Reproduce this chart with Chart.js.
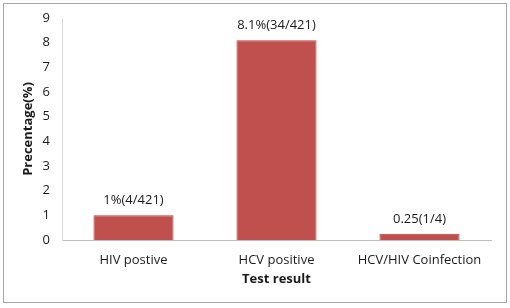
<!DOCTYPE html>
<html>
<head>
<meta charset="utf-8">
<script src="https://cdn.jsdelivr.net/npm/chart.js@4.4.0/dist/chart.umd.min.js"></script>
<style>
    html, body { margin: 0; padding: 0; background: #fff; }
    .wrap { position: relative; width: 510px; height: 308px; }
    .frame {
        position: absolute; left: 3px; top: 3px; width: 502px; height: 298px;
        border: 1px solid #a6a6a6; pointer-events: none;
    }
    canvas { position: absolute; left: 0; top: 0; }
</style>
</head>
<body>
<div class="wrap">
    <canvas id="chart" width="510" height="308"></canvas>
    <div class="frame"></div>
</div>
<script>
    // Chart data
    const categories = ['HIV postive', 'HCV positive', 'HCV/HIV Coinfection'];
    const values = [1, 8.1, 0.25];
    const barLabels = ['1%(4/421)', '8.1%(34/421)', '0.25(1/4)'];
    const yTicks = [0, 1, 2, 3, 4, 5, 6, 7, 8, 9];

    const fontFamily = "'Open Sans', sans-serif";
    const textColor = '#1a1a1a';

    // Draw the value labels above each bar
    const barLabelPlugin = {
        id: 'barLabels',
        afterDatasetsDraw(chart) {
            const ctx = chart.ctx;
            const meta = chart.getDatasetMeta(0);
            ctx.save();
            ctx.font = '13px ' + fontFamily;
            ctx.fillStyle = textColor;
            ctx.textAlign = 'center';
            ctx.textBaseline = 'middle';
            meta.data.forEach((bar, i) => {
                ctx.fillText(barLabels[i], bar.x, bar.y - 15);
            });
            ctx.restore();
        }
    };

    const ctx = document.getElementById('chart').getContext('2d');
    new Chart(ctx, {
        type: 'bar',
        data: {
            labels: categories,
            datasets: [{
                data: values,
                backgroundColor: '#c0504d',
                borderColor: '#c0393b',
                borderWidth: 1,
                barPercentage: 0.56,
                categoryPercentage: 1
            }]
        },
        options: {
            responsive: false,
            animation: false,
            layout: { padding: { top: 18, right: 19, left: 0, bottom: 0 } },
            plugins: {
                legend: { display: false },
                tooltip: { enabled: false }
            },
            scales: {
                x: {
                    grid: { display: false },
                    border: { display: true, color: '#bfbfbf', width: 1 },
                    ticks: {
                        color: textColor,
                        font: { size: 13, family: fontFamily },
                        padding: 4
                    },
                    title: {
                        display: true,
                        text: 'Test result',
                        color: textColor,
                        font: { size: 13, weight: 'bold', family: fontFamily },
                        padding: { top: 0, bottom: 21 }
                    },
                    afterFit(scale) { scale.height = 68; }
                },
                y: {
                    min: 0,
                    max: 9,
                    afterBuildTicks(scale) {
                        scale.ticks = yTicks.map(v => ({ value: v }));
                    },
                    grid: { display: false },
                    border: { display: true, color: '#d9d9d9', width: 1 },
                    ticks: {
                        color: textColor,
                        font: { size: 13, family: fontFamily },
                        padding: 4
                    },
                    title: {
                        display: true,
                        text: 'Precentage(%)',
                        color: textColor,
                        font: { size: 13, weight: 'bold', family: fontFamily },
                        padding: { top: 20, bottom: 0 }
                    },
                    afterFit(scale) { scale.width = 62; }
                }
            }
        },
        plugins: [barLabelPlugin]
    });
</script>
</body>
</html>
